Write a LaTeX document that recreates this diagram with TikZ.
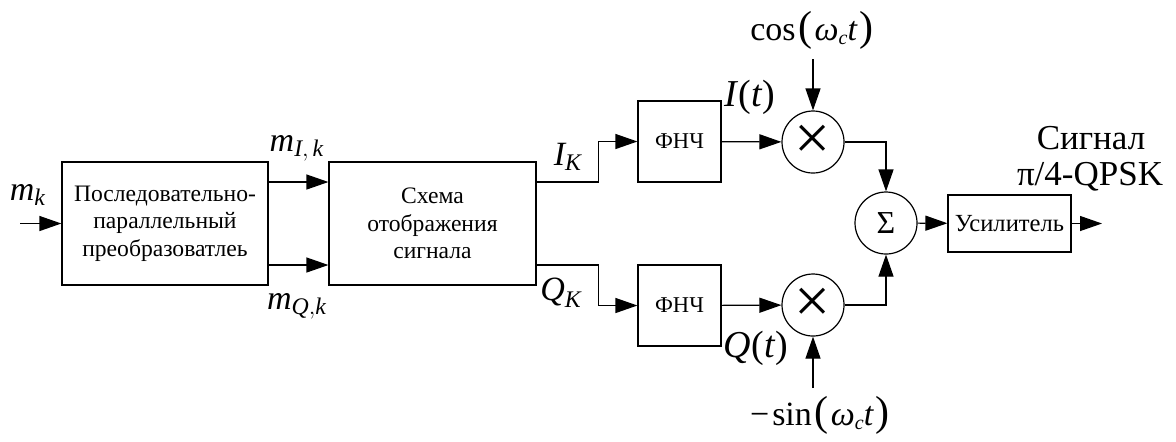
\documentclass[tikz,border=0pt]{standalone}
\usepackage{amsmath}
\usepackage{fontspec}
\setmainfont{Liberation Serif}
\usetikzlibrary{arrows.meta}
\newcommand\iv[1]{\textit{#1}}
\newcommand\bigpar[1]{{\fontsize{21}{21}\selectfont#1}}
\newcommand\omc{\iv{ω}\raisebox{-0.25ex}{\fontsize{10}{10}\selectfont\iv{c}}\iv{t}}
\begin{document}
\begin{tikzpicture}[x=0.5pt,y=-0.5pt,
  line width=0.6pt,
  >={Triangle[length=11pt,width=7.5pt]},
  blk/.style={draw,rectangle,inner sep=0pt,align=center,font=\fontsize{11.8}{13.75}\selectfont},
  circ/.style={draw,circle,inner sep=0pt,minimum size=31pt},
  lbl/.style={inner sep=0pt,font=\fontsize{17}{18}\selectfont},
  conn/.style={->}]
\useasboundingbox (0,0) rectangle (1176,441);
% blocks
\node[blk,minimum width=103pt,minimum height=61.5pt] (sp) at (165,223.5) {Последовательно-\\параллельный\\преобразоватлеь};
\node[blk,minimum width=103.5pt,minimum height=61.5pt] (map) at (432.5,223.5) {Схема\\отображения\\сигнала};
\node[blk,minimum width=41.5pt,minimum height=40.5pt,font=\fontsize{11.3}{13}\selectfont] (f1) at (679.5,141.5) {ФНЧ};
\node[blk,minimum width=41.5pt,minimum height=40.5pt,font=\fontsize{11.3}{13}\selectfont] (f2) at (679.5,305.5) {ФНЧ};
\node[circ,font=\fontsize{32}{32}\selectfont] (m1) at (813,142) {×};
\node[circ,font=\fontsize{32}{32}\selectfont] (m2) at (813,305) {×};
\node[circ,font=\fontsize{16}{16}\selectfont] (sum) at (886,223) {Σ};
\node[blk,minimum width=61.5pt,minimum height=28.5pt,font=\fontsize{12.3}{14}\selectfont] (amp) at (1009.5,223.5) {Усилитель};
% free ends
\coordinate (in) at (20,223.5);
\coordinate (out) at (1102,223.5);
\coordinate (cin) at (813,59);
\coordinate (sin) at (813,388);
% labels
\node[lbl] (lmk) at (28,195) {$\iv{m}_{\iv{k}}$};
\node[lbl] (lmi) at (297,148) {$\iv{m}_{\iv{I},\,\iv{k}}$};
\node[lbl] (lmq) at (297,306) {$\iv{m}_{\iv{Q},\iv{k}}$};
\node[lbl] (lik) at (568,157) {$\iv{I}_{\iv{K}}$};
\node[lbl] (lqk) at (561,293) {$\iv{Q}_{\iv{K}}$};
\node[lbl,font=\fontsize{19}{20}\selectfont] (lit) at (750,97) {\iv{I}(\iv{t})};
\node[lbl,font=\fontsize{19}{20}\selectfont] (lqt) at (756,348) {\iv{Q}(\iv{t})};
\node[lbl] (lcos) at (812,30) {cos\kern1.5pt\bigpar{(}\kern1pt\omc\kern1pt\bigpar{)}};
\node[lbl] (lsin) at (820,415) {−\kern1.5pt sin\kern1.5pt\bigpar{(}\kern1pt\omc\kern1pt\bigpar{)}};
\node[lbl,font=\fontsize{17.5}{18}\selectfont] (lsig) at (1091,138) {Сигнал};
\node[lbl,font=\fontsize{17.5}{18}\selectfont] (lqpsk) at (1090,177) {π/4-QPSK};
% connectors
\draw[conn] (in) -- (sp);
\draw[conn] ([yshift=20.75pt]sp.east) -- ([yshift=20.75pt]map.west);
\draw[conn] ([yshift=-20.75pt]sp.east) -- ([yshift=-20.75pt]map.west);
\draw[conn] ([yshift=20.75pt]map.east) -- ++(62,0) |- (f1.west);
\draw[conn] ([yshift=-20.75pt]map.east) -- ++(62,0) |- (f2.west);
\draw[conn] (f1) -- (m1);
\draw[conn] (f2) -- (m2);
\draw[conn] (cin) -- (m1);
\draw[conn] (sin) -- (m2);
\draw[conn] (m1.east) -| (sum.north);
\draw[conn] (m2.east) -| (sum.south);
\draw[conn] (sum) -- (amp);
\draw[conn] (amp) -- (out);
\end{tikzpicture}
\end{document}
